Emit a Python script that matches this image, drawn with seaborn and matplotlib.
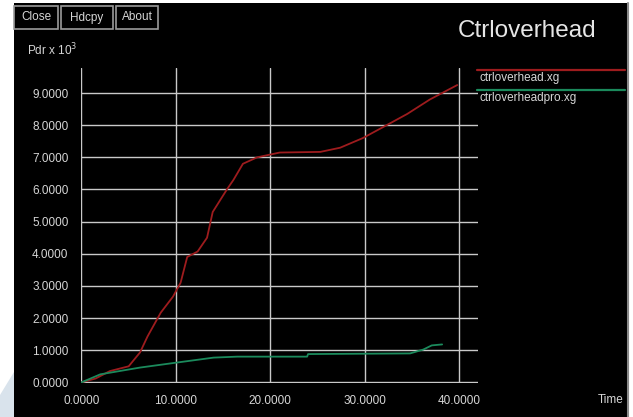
import numpy as np
import pandas as pd
import matplotlib
matplotlib.use("Agg")
import matplotlib.pyplot as plt
from matplotlib.patches import Rectangle, Polygon
from matplotlib.lines import Line2D
import seaborn as sns

# Control overhead (Pdr x 10^3) over simulation time
time_red = [0, 1.5, 3.0, 5.0, 6.2, 7.0, 8.4, 9.7, 10.5, 11.2, 12.3, 13.3, 13.9,
            15.4, 16.1, 17.1, 18.6, 21.0, 25.3, 27.4, 29.8, 32.0, 34.5, 36.9, 39.8]
val_red = [0, 0.12, 0.35, 0.50, 0.93, 1.43, 2.17, 2.67, 3.1, 3.9, 4.07, 4.5, 5.3,
           6.0, 6.3, 6.8, 7.0, 7.15, 7.17, 7.3, 7.6, 7.95, 8.35, 8.8, 9.25]

time_green = [0, 2.0, 6.2, 10.2, 14.0, 16.5, 23.9, 24.0, 34.8, 36.2, 37.1, 38.2]
val_green = [0, 0.25, 0.46, 0.62, 0.77, 0.80, 0.80, 0.88, 0.90, 1.02, 1.15, 1.18]

series_names = ["ctrloverhead.xg", "ctrloverheadpro.xg"]
series_colors = ["#9e1c1e", "#1b8a5c"]
x_ticks = [0, 10, 20, 30, 40]
y_ticks = [0, 1, 2, 3, 4, 5, 6, 7, 8, 9]
buttons = ["Close", "Hdcpy", "About"]

df = pd.concat([
    pd.DataFrame({"time": time_red, "value": val_red, "series": series_names[0]}),
    pd.DataFrame({"time": time_green, "value": val_green, "series": series_names[1]}),
], ignore_index=True)

sns.set_style("dark")
plt.rcParams["font.family"] = ["Liberation Sans", "DejaVu Sans"]

W, H = 633, 417
fig = plt.figure(figsize=(W / 100, H / 100), dpi=100, facecolor="white")


def fx(px):
    return px / W


def fy(py):
    return 1 - py / H


# window background and border
fig.patches.append(Polygon([(0, fy(395)), (fx(14), fy(372)), (fx(14), fy(417)), (0, fy(417))],
                           closed=True, transform=fig.transFigure, facecolor="#d9e3ec",
                           edgecolor="none", zorder=-2))
fig.patches.append(Rectangle((fx(14), 0), fx(613), fy(3), transform=fig.transFigure,
                             facecolor="black", edgecolor="none", zorder=-1))
fig.lines.append(Line2D([fx(628), fx(628)], [0, fy(3)], transform=fig.transFigure,
                        color="#8a8a8a", lw=1.5))

grid_c = "#c9c9c9"
text_c = "#d6d6d6"

ax = fig.add_axes([fx(81), 1 - 383 / H, (478 - 81) / W, (383 - 68) / H])
ax.set_facecolor("black")
sns.lineplot(data=df, x="time", y="value", hue="series", palette=series_colors,
             hue_order=series_names, estimator=None, sort=False, legend=False,
             linewidth=1.3, ax=ax, zorder=3)

ax.set_xlim(-0.05, 42.0)
ax.set_ylim(-0.02, 9.78)
ax.set_xticks(x_ticks)
ax.set_yticks(y_ticks)
ax.set_xticklabels([f"{v:.4f}" for v in x_ticks])
ax.set_yticklabels([f"{v:.4f}" for v in y_ticks])
ax.grid(True, color=grid_c, lw=1.0)
ax.set_axisbelow(True)
for s in ax.spines.values():
    s.set_visible(False)
ax.tick_params(axis="both", direction="out", length=6, width=1.0, color=grid_c,
               labelcolor=text_c, labelsize=8.5)
ax.tick_params(axis="y", pad=3)
ax.tick_params(axis="x", pad=3)
ax.set_xlabel("")
ax.set_ylabel("")

# toolbar buttons
bx = [(14, 58), (61, 113), (116, 158)]
for (x0, x1), label in zip(bx, buttons):
    fig.patches.append(Rectangle((fx(x0), fy(29)), fx(x1 - x0), (29 - 6) / H,
                                 transform=fig.transFigure, facecolor="black",
                                 edgecolor="#9a9a9a", lw=1.2))
    fig.text(fx((x0 + x1) / 2), fy(17.5), label, color=text_c, fontsize=8.5,
             ha="center", va="center")

fig.text(fx(27), fy(50), "Pdr x 10$^3$", color=text_c, fontsize=8.5,
         ha="left", va="center")
fig.text(fx(527), fy(31), "Ctrloverhead", color="#e6e6e6", fontsize=17.5,
         ha="center", va="center")

# legend
for i, (name, col) in enumerate(zip(series_names, series_colors)):
    y_line = 70 + 20 * i
    fig.lines.append(Line2D([fx(477), fx(625)], [fy(y_line), fy(y_line)],
                            transform=fig.transFigure, color=col, lw=1.6))
    fig.text(fx(479), fy(y_line + 8), name, color=text_c, fontsize=8.5,
             ha="left", va="center")

fig.text(fx(624), fy(400), "Time", color=text_c, fontsize=8.5, ha="right", va="center")

fig.savefig("out.png", dpi=100, facecolor=fig.get_facecolor())
